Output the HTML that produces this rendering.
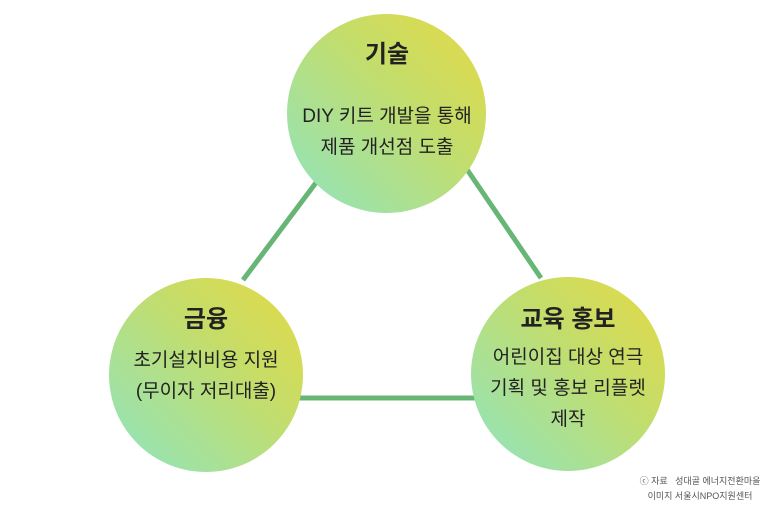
<!DOCTYPE html>
<html><head><meta charset="utf-8"><style>
html,body{margin:0;padding:0;background:#fff;}
body{width:773px;height:515px;position:relative;overflow:hidden;font-family:"Liberation Sans","Noto Sans CJK KR",sans-serif;color:#222;}
.c{position:absolute;border-radius:50%;background:linear-gradient(225deg,#e6d944 0%,#c4dd6a 40%,#8ee4c2 100%);}
.t{position:absolute;width:260px;text-align:center;}
.h{font-size:24px;font-weight:bold;}
.b{font-size:19px;line-height:31px;}
</style></head><body>
<svg width="773" height="515" style="position:absolute;left:0;top:0">
<g stroke="#68b676" stroke-width="5" stroke-linecap="butt">
<line x1="318" y1="180" x2="243" y2="280"/>
<line x1="466" y1="168" x2="541" y2="278"/>
<line x1="298" y1="398" x2="480" y2="398"/>
</g></svg>
<div class="c" style="left:287px;top:14px;width:199px;height:199px"></div>
<div class="c" style="left:109px;top:278px;width:194px;height:194px"></div>
<div class="c" style="left:471px;top:277px;width:194px;height:194px"></div>
<div class="t h" style="left:257px;top:34px">기술</div>
<div class="t b" style="left:257px;top:101px">DIY 키트 개발을 통해<br>제품 개선점 도출</div>
<div class="t h" style="left:76px;top:299px">금융</div>
<div class="t b" style="left:76px;top:345px">초기설치비용 지원<br>(무이자 저리대출)</div>
<div class="t h" style="left:438px;top:299px">교육 홍보</div>
<div class="t b" style="left:438px;top:342px">어린이집 대상 연극<br>기획 및 홍보 리플렛<br>제작</div>
<div style="position:absolute;left:630px;top:474px;font-size:9px;line-height:15px;color:#555;text-align:center;width:140px">ⓒ 자료 &nbsp;&nbsp;성대골 에너지전환마을<br>이미지 서울시NPO지원센터</div>
</body></html>
